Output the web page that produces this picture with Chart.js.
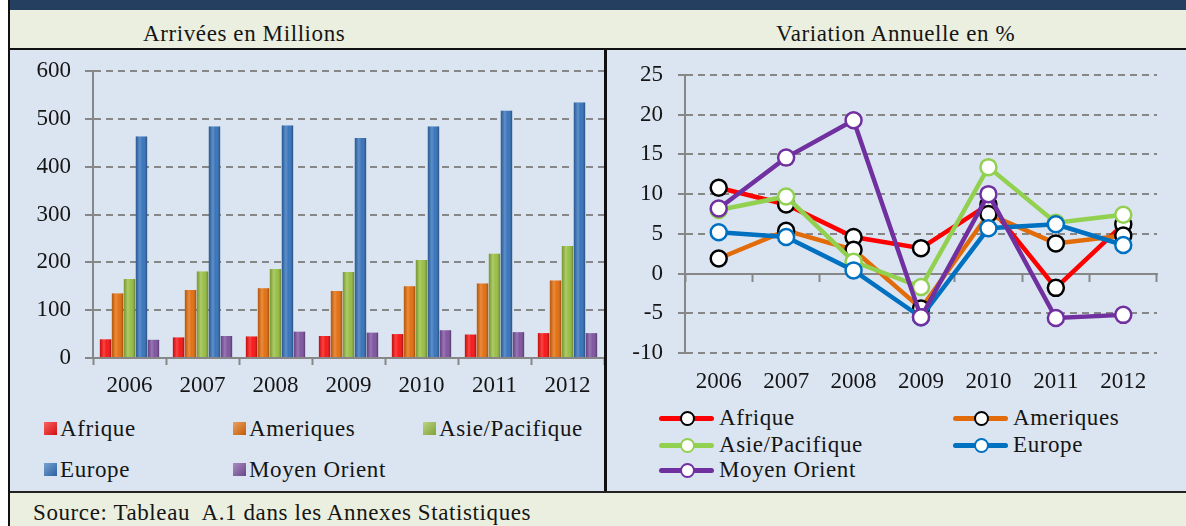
<!DOCTYPE html>
<html lang="fr">
<head>
<meta charset="utf-8">
<title>Arrivées et variation annuelle</title>
<script src="https://cdn.jsdelivr.net/npm/chart.js"></script>
<style>
  html, body { margin: 0; padding: 0; background: #fff; }
  #page { position: relative; width: 1186px; height: 526px; overflow: hidden;
          font-family: "Liberation Serif", serif; color: #151515; }
  .box { position: absolute; }
  .txt { position: absolute; font-family: "Liberation Serif", serif; font-size: 23px;
         line-height: 26px; letter-spacing: 0.6px; white-space: pre; }
  canvas { position: absolute; }
  .sq { position: absolute; width: 13px; height: 13px; }
  .ln { position: absolute; height: 5px; border-radius: 3px; }
  .dot { position: absolute; width: 11px; height: 11px; border-radius: 50%; background: #fff; border: 2px solid #000; }
</style>
</head>
<body>
<div id="page">
  <div class="box" style="left:8px;top:0;width:1178px;height:10px;background:#243f60"></div>
  <div class="box" style="left:10px;top:10px;width:1176px;height:38px;background:#ebefdf"></div>
  <div class="box" style="left:8px;top:48px;width:1178px;height:2px;background:#111"></div>
  <div class="box" style="left:10px;top:50px;width:1176px;height:441px;background:#dbe5f1"></div>
  <div class="box" style="left:604px;top:50px;width:3px;height:441px;background:#111"></div>
  <div class="box" style="left:8px;top:491px;width:1178px;height:2px;background:#222"></div>
  <div class="box" style="left:10px;top:493px;width:1176px;height:33px;background:#ebefdf"></div>
  <div class="box" style="left:8px;top:0;width:2px;height:526px;background:#111"></div>

  <div class="txt" style="left:143px;top:21px">Arrivées en Millions</div>
  <div class="txt" style="left:776px;top:21px">Variation Annuelle en %</div>
  <div class="txt" style="left:33px;top:500px">Source: Tableau  A.1 dans les Annexes Statistiques</div>

  <canvas id="arrivalsChart" width="594" height="350" style="left:10px;top:50px"></canvas>
  <canvas id="variationChart" width="579" height="350" style="left:607px;top:50px"></canvas>
</div>

<script>
// --------------------------------
// Data
// --------------------------------
const years = ["2006", "2007", "2008", "2009", "2010", "2011", "2012"];
const regions = ["Afrique", "Ameriques", "Asie/Pacifique", "Europe", "Moyen Orient"];

// arrivals in millions
const arrAfrique = [39, 43, 45, 46, 50, 49, 52];
const arrAmeriques = [135, 142, 146, 140, 150, 156, 162];
const arrAsie = [165, 181, 186, 180, 205, 218, 234];
const arrEurope = [463, 484, 486, 460, 484, 517, 534];
const arrMoyenOrient = [38, 46, 55, 53, 58, 54, 52];

// annual change in %
const varAfrique = [10.8, 8.7, 4.6, 3.2, 8.7, -1.8, 6.2];
const varAmeriques = [1.9, 5.4, 3.0, -4.4, 7.5, 3.8, 4.8];
const varAsie = [8.0, 9.7, 1.5, -1.7, 13.4, 6.4, 7.4];
const varEurope = [5.2, 4.6, 0.4, -5.5, 5.7, 6.2, 3.6];
const varMoyenOrient = [8.2, 14.6, 19.3, -5.5, 10.0, -5.6, -5.2];

const leftTicks = [0, 100, 200, 300, 400, 500, 600];
const rightTicks = [-10, -5, 0, 5, 10, 15, 20, 25];

// --------------------------------
// Styles
// --------------------------------
const barColors = ["#f81010", "#e36c0a", "#96bd40", "#3270ba", "#7c509f"];
const lineColors = ["#ff0000", "#e36c0a", "#92d050", "#0070c0", "#7030a0"];
const pointBorders = ["#000000", "#000000", "#92d050", "#0070c0", "#7030a0"];
const gridGrey = "#878787";
const tickFont = { family: "'Liberation Serif', serif", size: 23 };

// y axis labels must not push the plot area down
const noOverflow = (s) => {
  s.paddingTop = 0;
  s.paddingBottom = 0;
};

document.addEventListener("DOMContentLoaded", () => {
  Chart.defaults.font.family = "'Liberation Serif', serif";
  Chart.defaults.color = "#151515";

  // -------------------------------
  // cylinder-like shading on bars
  // -------------------------------
  const barShade = {
    id: "barShade",
    afterDatasetDraw(chart, args) {
      const ctx = chart.ctx;
      args.meta.data.forEach((bar) => {
        const { x, y, base, width } = bar.getProps(["x", "y", "base", "width"], true);
        const left = x - width / 2;
        const g = ctx.createLinearGradient(left, 0, left + width, 0);
        g.addColorStop(0, "rgba(0,0,0,0.2)");
        g.addColorStop(0.35, "rgba(255,255,255,0.22)");
        g.addColorStop(0.6, "rgba(255,255,255,0.04)");
        g.addColorStop(1, "rgba(0,0,0,0.3)");
        ctx.save();
        ctx.fillStyle = g;
        ctx.fillRect(left, y, width, base - y);
        ctx.restore();
      });
    },
  };

  // -------------------------------
  // Arrivées en Millions (bars)
  // -------------------------------
  const arrSeries = [arrAfrique, arrAmeriques, arrAsie, arrEurope, arrMoyenOrient];
  const arrivalsChart = new Chart(document.getElementById("arrivalsChart"), {
    type: "bar",
    data: {
      labels: years,
      datasets: arrSeries.map((vals, i) => ({
        label: regions[i],
        data: vals,
        backgroundColor: barColors[i],
        borderWidth: 0,
        barPercentage: 0.95,
        categoryPercentage: 0.82,
      })),
    },
    options: {
      responsive: false,
      animation: false,
      layout: { padding: { top: 21, right: 0, left: 0, bottom: 0 } },
      plugins: { legend: { display: false }, tooltip: { enabled: false } },
      scales: {
        x: {
          offset: true,
          grid: { offset: true, drawOnChartArea: false, tickLength: 7, tickWidth: 2, tickColor: gridGrey },
          border: { color: gridGrey, width: 2 },
          ticks: { font: tickFont, padding: 7, color: "#151515" },
          afterFit: (s) => { s.height = 42; },
        },
        y: {
          min: 0,
          max: 600,
          afterBuildTicks: (s) => { s.ticks = leftTicks.map((v) => ({ value: v })); },
          ticks: { font: tickFont, padding: 14, color: "#151515" },
          grid: { color: gridGrey, lineWidth: 2, tickLength: 8, tickColor: gridGrey, tickWidth: 2 },
          border: { color: gridGrey, width: 2, dash: [7, 5] },
          afterFit: (s) => { s.width = 83; noOverflow(s); },
        },
      },
    },
    plugins: [barShade],
  });

  // -------------------------------
  // Variation Annuelle en % (lines)
  // -------------------------------
  const varSeries = [varAfrique, varAmeriques, varAsie, varEurope, varMoyenOrient];
  const variationChart = new Chart(document.getElementById("variationChart"), {
    type: "line",
    data: {
      labels: years,
      datasets: varSeries.map((vals, i) => ({
        label: regions[i],
        data: vals,
        borderColor: lineColors[i],
        borderWidth: 4.5,
        pointRadius: 8,
        pointBorderWidth: 2.5,
        pointBackgroundColor: "#ffffff",
        pointBorderColor: pointBorders[i],
        order: 5 - i,
        tension: 0,
      })),
    },
    options: {
      responsive: false,
      animation: false,
      layout: { padding: { top: 25, right: 29, left: 0, bottom: 0 } },
      plugins: { legend: { display: false }, tooltip: { enabled: false } },
      scales: {
        x: {
          offset: true,
          grid: { display: true, drawOnChartArea: false, drawTicks: false, offset: true },
          border: { display: false },
          ticks: { font: tickFont, padding: 15, color: "#151515" },
          afterFit: (s) => { s.height = 47; },
        },
        x2: {
          type: "category",
          position: { y: 0 },
          offset: true,
          grid: { offset: true, drawOnChartArea: false, tickLength: 7, tickWidth: 2, tickColor: gridGrey },
          border: { color: gridGrey, width: 2 },
          ticks: { display: false },
        },
        y: {
          min: -10,
          max: 25,
          afterBuildTicks: (s) => { s.ticks = rightTicks.map((v) => ({ value: v })); },
          ticks: { font: tickFont, padding: 15, color: "#151515" },
          grid: { color: gridGrey, lineWidth: 2, tickLength: 7, tickColor: gridGrey, tickWidth: 2 },
          border: { color: gridGrey, width: 2, dash: [7, 5] },
          afterFit: (s) => { s.width = 78; noOverflow(s); },
        },
      },
    },
  });

  // -------------------------------
  // HTML legends (fixed columns like the original)
  // -------------------------------
  const page = document.getElementById("page");

  const leftCols = [44, 233, 423];
  const leftRows = [429, 470];
  arrivalsChart.data.datasets.forEach((ds, i) => {
    const col = leftCols[i % 3];
    const row = leftRows[Math.floor(i / 3)];
    const sq = document.createElement("div");
    sq.className = "sq";
    sq.style.left = col + "px";
    sq.style.top = row - 7 + "px";
    sq.style.background = `linear-gradient(135deg, rgba(255,255,255,0.35), rgba(0,0,0,0.15)), ${ds.backgroundColor}`;
    page.appendChild(sq);
    const t = document.createElement("div");
    t.className = "txt";
    t.style.left = col + 16 + "px";
    t.style.top = row - 13 + "px";
    t.textContent = ds.label;
    page.appendChild(t);
  });

  const rightCols = [659, 953];
  const rightRows = [418, 445, 470];
  variationChart.data.datasets.forEach((ds, i) => {
    const col = rightCols[i % 2];
    const row = rightRows[Math.floor(i / 2)];
    const ln = document.createElement("div");
    ln.className = "ln";
    ln.style.left = col + "px";
    ln.style.width = "55px";
    ln.style.top = row - 2.5 + "px";
    ln.style.background = ds.borderColor;
    page.appendChild(ln);
    const dot = document.createElement("div");
    dot.className = "dot";
    dot.style.left = col + 28 - 7.5 + "px";
    dot.style.top = row - 7.5 + "px";
    dot.style.borderColor = ds.pointBorderColor;
    page.appendChild(dot);
    const t = document.createElement("div");
    t.className = "txt";
    t.style.left = col + 60 + "px";
    t.style.top = row - 13 + "px";
    t.textContent = ds.label;
    page.appendChild(t);
  });
});
</script>
</body>
</html>
